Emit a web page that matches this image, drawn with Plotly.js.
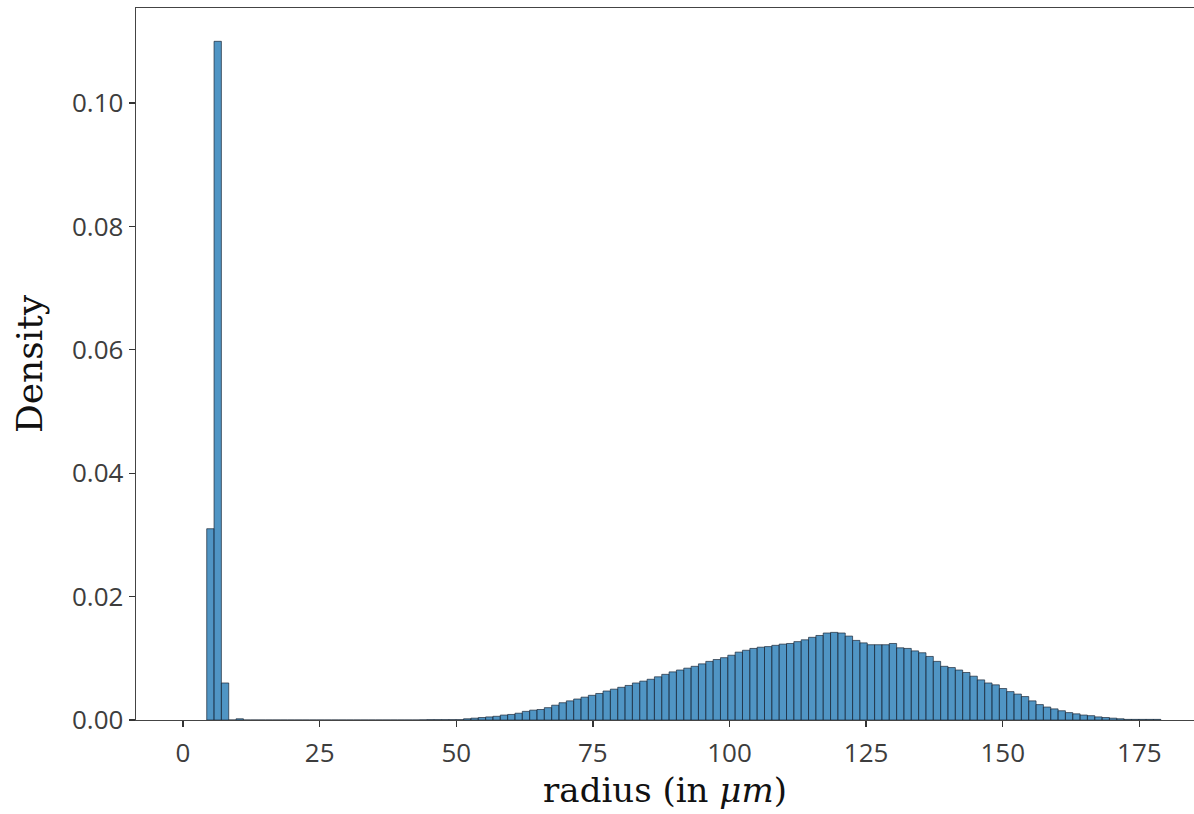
<!DOCTYPE html>
<html>
<head>
<meta charset="utf-8">
<script src="https://cdn.plot.ly/plotly-3.0.1.min.js"></script>
<style>html,body{margin:0;padding:0;background:#fff;}#chart{width:1194px;height:814px;}</style>
</head>
<body>
<div id="chart"></div>
<script>
// Histogram of radii (density), 130 equal-width bins
const binStart = 4.34;      // left edge of first bin (µm)
const binWidth = 1.343;     // bin width (µm)
const density = [
  0.031, 0.110, 0.006, 0, 0.0002,
  0, 0, 0, 0, 0, 0, 0, 0, 0, 0, 0, 0, 0, 0, 0, 0, 0, 0, 0, 0, 0, 0, 0, 0,
  0.00002, 0.00005, 0.00005, 0.00005, 0.00005, 0.00005,
  0.0002, 0.0003, 0.0004, 0.0005, 0.0006, 0.0008, 0.0009, 0.0011, 0.0014, 0.0016,
  0.0017, 0.0020, 0.0024, 0.0028, 0.0031, 0.0034, 0.0037, 0.0040, 0.0043, 0.0047,
  0.0050, 0.0053, 0.0056, 0.0060, 0.0063, 0.0066, 0.0070, 0.0074, 0.0078, 0.0081,
  0.0084, 0.0087, 0.0091, 0.0095, 0.0098, 0.0101, 0.0105, 0.0110, 0.0113, 0.0116,
  0.0118, 0.0119, 0.0121, 0.0123, 0.0124, 0.0127, 0.0130, 0.0134, 0.0137, 0.0141,
  0.0142, 0.0141, 0.0136, 0.0129, 0.0125, 0.0122, 0.0122, 0.0122, 0.0124, 0.0117,
  0.0116, 0.0112, 0.0109, 0.0103, 0.0095, 0.0087, 0.0085, 0.0081, 0.0077, 0.0071,
  0.0065, 0.0060, 0.0057, 0.0051, 0.0046, 0.0042, 0.0038, 0.0031, 0.0025, 0.0021,
  0.0018, 0.0015, 0.0012, 0.0010, 0.0008, 0.0007, 0.0005, 0.0004, 0.0003, 0.0002,
  0.0001, 0.0001, 0.0001, 0.0001, 0.0001
];
const xTicks = [0, 25, 50, 75, 100, 125, 150, 175];
const yTicks = [0, 0.02, 0.04, 0.06, 0.08, 0.10];
const xTitle = 'radius (in <i>μm</i>)';
const yTitle = 'Density';

const centers = density.map((_, i) => binStart + binWidth * (i + 0.5));

const trace = {
  type: 'bar',
  x: centers,
  y: density,
  width: binWidth,
  marker: {
    color: 'rgba(31,119,180,0.78)',
    line: {color: 'rgba(25,35,50,0.85)', width: 0.8}
  },
  hoverinfo: 'x+y'
};

const layout = {
  width: 1194, height: 814,
  margin: {l: 136, r: 0, t: 8, b: 94},
  paper_bgcolor: '#ffffff', plot_bgcolor: '#ffffff',
  showlegend: false,
  bargap: 0,
  xaxis: {
    range: [-8.6, 185.0],
    tickvals: xTicks,
    ticks: 'outside', ticklen: 6, tickwidth: 1.3, tickcolor: '#333',
    showline: true, linecolor: '#444', linewidth: 1.4, mirror: true,
    showgrid: false, zeroline: false,
    ticklabelstandoff: 3,
    tickfont: {family: 'Open Sans', size: 26, color: '#3d3d3d'},
    title: {text: xTitle, font: {family: 'DejaVu Serif', size: 34, color: '#111'}, standoff: 8}
  },
  yaxis: {
    range: [0, 0.1154],
    tickvals: yTicks,
    tickformat: '.2f',
    ticks: 'outside', ticklen: 6, tickwidth: 1.3, tickcolor: '#333',
    showline: true, linecolor: '#444', linewidth: 1.4, mirror: false,
    showgrid: false, zeroline: false,
    tickfont: {family: 'Open Sans', size: 26, color: '#3d3d3d'},
    title: {text: yTitle, font: {family: 'DejaVu Serif', size: 36, color: '#111'}, standoff: 18}
  }
};

Plotly.newPlot('chart', [trace], layout, {displayModeBar: false, staticPlot: true});
</script>
</body>
</html>
